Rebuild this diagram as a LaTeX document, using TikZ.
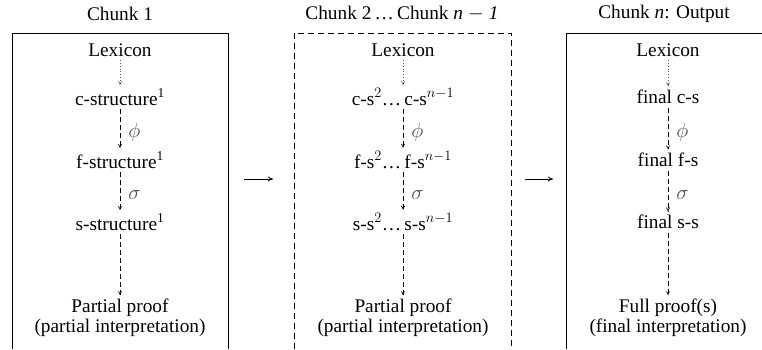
\documentclass[tikz,border=0pt]{standalone}
\usepackage{fontspec}
\setmainfont{Liberation Serif}
\usetikzlibrary{arrows.meta}
\begin{document}
\begin{tikzpicture}[x=1pt,y=-1pt,
  every node/.style={font=\fontsize{19.3}{20.5}\selectfont},
  lbl/.style={inner sep=0pt},
  item/.style={inner xsep=5pt, inner ysep=3.5pt},
  maptip/.style={-{To[length=4pt,width=4pt]}},
  dotarrow/.style={maptip, draw=gray!70!black, line width=0.5pt, dash pattern=on 0.6pt off 2.2pt},
  dasharrow/.style={maptip, line width=0.6pt, dash pattern=on 5pt off 3pt},
  maplabel/.style={inner sep=0pt, xshift=8pt, text=gray!60!black},
  boxline/.style={line width=0.8pt},
  stepline/.style={-{To[length=5pt,width=5pt]}, line width=0.8pt}
]
\useasboundingbox (0,0) rectangle (762,349);

% chunk frames (open at the bottom)
\draw[boxline] (12,349) -- (12,33) -- (228,33) -- (228,349);
\draw[boxline, dash pattern=on 6pt off 4pt] (294,349) -- (294,33) -- (511,33) -- (511,349);
\draw[boxline] (566,349) -- (566,33) -- (770,33);

% titles
\node[lbl] (t1) at (120,14) {Chunk 1};
\node[lbl] (t2) at (402,14) {Chunk 2\,\ldots\,Chunk \textit{n} $-$ \textit{1}};
\node[lbl] (t3) at (664,14) {Chunk \textit{n}: Output};

% column 1
\node[item] (lex1) at (120,50) {Lexicon};
\node[item] (c1) at (120,97) {c-structure\textsuperscript{1}};
\node[item] (f1) at (120,160) {f-structure\textsuperscript{1}};
\node[item] (s1) at (120,222) {s-structure\textsuperscript{1}};
\node[item, align=center] (p1) at (120,318) {Partial proof\\(partial interpretation)};

% column 2
\node[item] (lex2) at (403,50) {Lexicon};
\node[item] (c2) at (403,97) {c-s$^2$\ldots\,c-s$^{n-1}$};
\node[item] (f2) at (403,160) {f-s$^2$\ldots\,f-s$^{n-1}$};
\node[item] (s2) at (403,222) {s-s$^2$\ldots\,s-s$^{n-1}$};
\node[item, align=center] (p2) at (403,318) {Partial proof\\(partial interpretation)};

% column 3
\node[item] (lex3) at (668,50) {Lexicon};
\node[item] (c3) at (668,97) {final c-s};
\node[item] (f3) at (668,160) {final f-s};
\node[item] (s3) at (668,222) {final s-s};
\node[item, align=center] (p3) at (668,318) {Full proof(s)\\(final interpretation)};

% projections inside each chunk
\foreach \k in {1,2,3}{
  \draw[dotarrow] (lex\k.south) -- (lex\k.south |- c\k.north);
  \draw[dasharrow] (lex\k.south |- c\k.south) -- (lex\k.south |- f\k.north)
    node[maplabel, pos=0.6, right] {$\phi$};
  \draw[dasharrow] (lex\k.south |- f\k.south) -- (lex\k.south |- s\k.north)
    node[maplabel, pos=0.6, right] {$\sigma$};
  \draw[dasharrow] (lex\k.south |- s\k.south) -- (lex\k.south |- p\k.north);
}

% steps from chunk to chunk
\coordinate (a1) at (244,179);
\coordinate (b1) at (273,179);
\coordinate (a2) at (525,179);
\coordinate (b2) at (553,179);
\draw[stepline] (a1) -- (b1);
\draw[stepline] (a2) -- (b2);
\end{tikzpicture}
\end{document}
